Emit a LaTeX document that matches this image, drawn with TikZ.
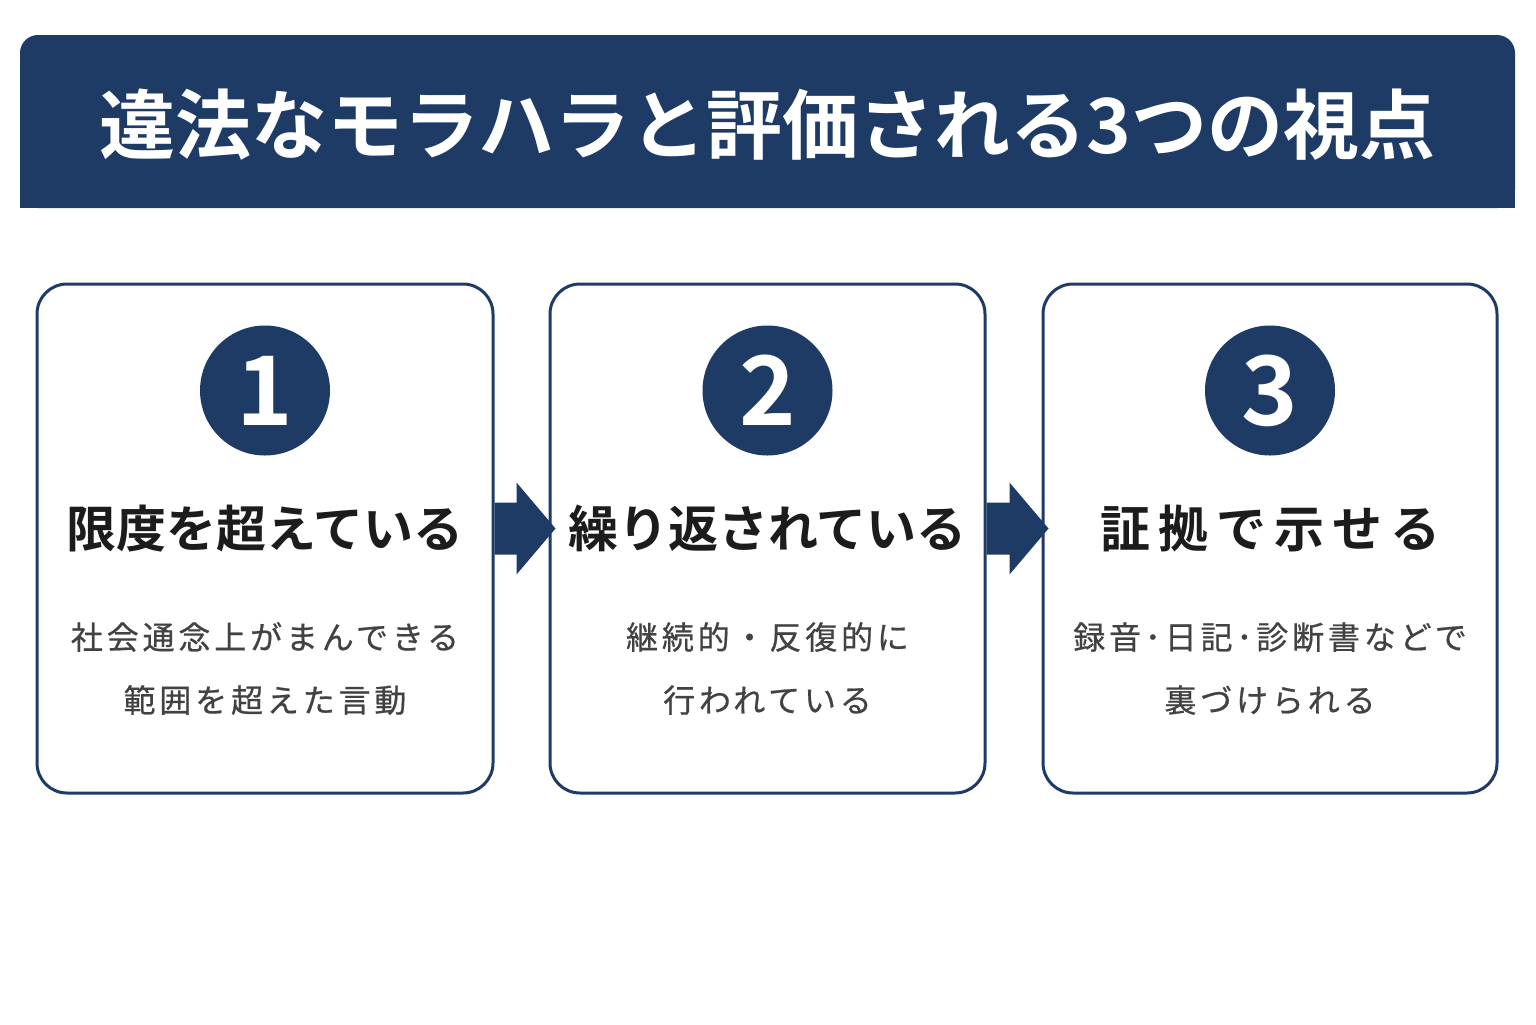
\documentclass[tikz,border=0pt]{standalone}
\usepackage{fontspec}
\usetikzlibrary{positioning,calc}
\newfontfamily\jp{Noto Sans CJK JP}[BoldFont={Noto Sans CJK JP Bold}]
\newfontfamily\jpwide{Noto Sans CJK JP}[BoldFont={Noto Sans CJK JP Bold},LetterSpace=16]
\newfontfamily\jpnote{Noto Sans CJK JP}[LetterSpace=12,FakeBold=0.6]
\definecolor{navy}{HTML}{1E3B66}
\definecolor{ink}{HTML}{1C1C1C}
\definecolor{greytext}{HTML}{424242}

\begin{document}
\begin{tikzpicture}[x=0.5pt, y=-0.5pt, node distance = 69pt,
	banner/.style = {fill=navy, rounded corners=9pt, minimum width=747.5pt, minimum height=86.5pt, text=white, font=\jp\bfseries\fontsize{38}{44}\selectfont},
	card/.style = {draw=navy, line width=1.5pt, rounded corners=15pt, fill=white, minimum height=254.5pt},
	num/.style = {circle, fill=navy, minimum size=65pt, inner sep=0pt, text=white, font=\jp\bfseries\fontsize{48}{48}\selectfont},
	head/.style = {text=ink, font=\jp\bfseries\fontsize{25}{30}\selectfont},
	note/.style = {text=greytext, align=center, font=\jpnote\fontsize{16}{31.5}\selectfont}]
	\fill[white] (0,0) rectangle (1536,1024);
	\useasboundingbox (0,0) rectangle (1536,1024);
	% title bar, square at the bottom
	\fill[navy] (20,121) rectangle (1515,208);
	\node[banner] (title) at (767.5,121.5) {};
	\node[text=white, font=\jp\bfseries\fontsize{38}{44}\selectfont] (titletext) at ([yshift=-1.5pt]title.center) {違法なモラハラと評価される3つの視点};
	% the three cards
	\node[card, minimum width=228pt] (b1) at (265,538.5) {};
	\node[card, minimum width=217.5pt] (b2) at (767.5,538.5) {};
	\node[card, minimum width=227pt] (b3) at (1270,538.5) {};
	\node[num] (n1) at ([yshift=-54pt]b1.north) {1};
	\node[num] (n2) at ([yshift=-54pt]b2.north) {2};
	\node[num] (n3) at ([yshift=-54pt]b3.north) {3};
	\node[head] (h1) [below of=n1] {限度を超えている};
	\node[head] (h2) [below of=n2] {繰り返されている};
	\node[head, font=\jpwide\bfseries\fontsize{25}{30}\selectfont] (h3) [below of=n3] {証拠で示せる};
	\node[note] (s1) [below of=h1, yshift=-1pt] {社会通念上がまんできる\\範囲を超えた言動};
	\node[note] (s2) [below of=h2, yshift=-1pt] {継続的・反復的に\\行われている};
	\node[note] (s3) [below of=h3, yshift=-1pt] {録音･日記･診断書などで\\裏づけられる};
	% block arrows between the cards
	\foreach \i/\j in {1/2, 2/3} {
		\coordinate (a\i) at (b\i.east |- h\i);
		\coordinate (z\i) at (b\j.west |- h\i);
		\fill[navy] ($(a\i)+(0,-26)$) -- ($(z\i)+(-32,-26)$) -- ($(z\i)+(-32,-46)$) -- ($(z\i)+(7,0)$)
			-- ($(z\i)+(-32,46)$) -- ($(z\i)+(-32,26)$) -- ($(a\i)+(0,26)$) -- cycle;
	}
\end{tikzpicture}
\end{document}
